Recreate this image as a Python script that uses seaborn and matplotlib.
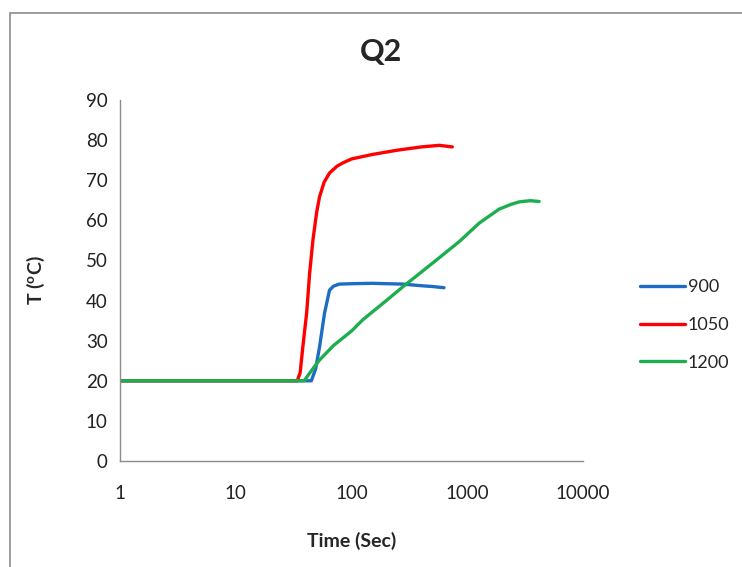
import pandas as pd
import matplotlib.pyplot as plt
import matplotlib.patches as patches
import seaborn as sns

# ---- data ----
t_900 = [1, 45, 49, 53, 58.5, 64.6, 70, 78.6, 100, 150, 277, 400, 500, 630]
T_900 = [20, 20, 23, 28.5, 36.9, 42.6, 43.6, 44.1, 44.2, 44.3, 44.1, 43.7, 43.5, 43.2]

t_1050 = [1, 34, 36, 38, 41, 43.5, 46.4, 50, 53, 58, 64.6, 75, 84, 100, 150, 250, 400, 570, 743]
T_1050 = [20, 20, 22, 28.5, 37, 46.9, 55, 62, 65.9, 69.5, 71.8, 73.5, 74.3, 75.3, 76.4, 77.5, 78.3, 78.7, 78.3]

t_1200 = [1, 39, 45, 53, 70, 100, 125, 200, 277, 500, 853, 1268, 1888, 2400, 2807, 3500, 4178]
T_1200 = [20, 20, 22.5, 25.2, 28.8, 32.4, 35.2, 40, 43.4, 49.3, 54.7, 59.3, 62.8, 64.0, 64.6, 64.9, 64.7]

series = ["900", "1050", "1200"]
colors = ["#1f6cc4", "#ff0000", "#1eae4f"]
x_ticks = [1, 10, 100, 1000, 10000]
x_ticklabels = ["1", "10", "100", "1000", "10000"]
y_ticks = list(range(0, 91, 10))

df = pd.concat([
    pd.DataFrame({"Time": t_900, "T": T_900, "series": "900"}),
    pd.DataFrame({"Time": t_1050, "T": T_1050, "series": "1050"}),
    pd.DataFrame({"Time": t_1200, "T": T_1200, "series": "1200"}),
])

sns.set_style("white")
plt.rcParams["font.family"] = ["Lato", "DejaVu Sans"]
plt.rcParams["mathtext.fontset"] = "custom"
plt.rcParams["mathtext.rm"] = "Lato"
plt.rcParams["mathtext.bf"] = "Lato:bold"

fig = plt.figure(figsize=(7.42, 5.67), dpi=100)
ax = fig.add_axes([120 / 742, 1 - 461 / 567, 463 / 742, 361 / 567])

# chart area border
fig.patches.append(patches.Rectangle((10 / 742, -0.05), 1.0, 1 - 13 / 567 + 0.05,
                                     transform=fig.transFigure, fill=False,
                                     edgecolor="#8c8c8c", linewidth=1.2))

sns.lineplot(data=df, x="Time", y="T", hue="series", hue_order=series,
             palette=colors, estimator=None, sort=True, linewidth=2.4, ax=ax)

ax.set_xscale("log")
ax.set_xlim(1, 10000)
ax.set_ylim(0, 90)
ax.set_xticks(x_ticks)
ax.set_xticklabels(x_ticklabels)
ax.set_yticks(y_ticks)
ax.minorticks_off()
ax.tick_params(axis="both", labelsize=13.5, colors="#222222", length=4,
               width=1, direction="out")
ax.tick_params(axis="x", color="#8c8c8c", pad=13)
ax.tick_params(axis="y", color="#8c8c8c", pad=5)
for s in ["top", "right"]:
    ax.spines[s].set_visible(False)
for s in ["left", "bottom"]:
    ax.spines[s].set_color("#8c8c8c")
    ax.spines[s].set_linewidth(1)

ax.set_xlabel("Time (Sec)", fontsize=14, fontweight="bold", labelpad=22)
ax.set_ylabel(r"T ($\mathbf{^{o}}$C)", fontsize=14, fontweight="bold", labelpad=28)

fig.text(381 / 742, 1 - 52 / 567, "Q2", ha="center", va="center",
         fontsize=22, fontweight="bold")

ax.legend(loc="center left", bbox_to_anchor=(640 / 742, 1 - 325 / 567),
          bbox_transform=fig.transFigure, frameon=False, fontsize=13,
          handlelength=2.5, handletextpad=0.15, labelspacing=1.2,
          borderpad=0, borderaxespad=0, title=None)

fig.savefig("out.png", dpi=100)
